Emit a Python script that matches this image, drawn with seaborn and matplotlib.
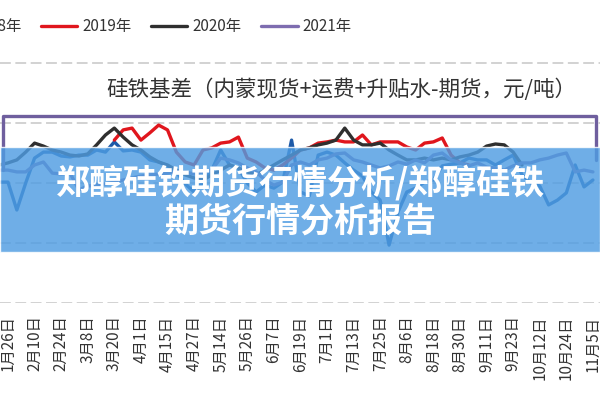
import numpy as np
import pandas as pd
import matplotlib
matplotlib.use("Agg")
import matplotlib.pyplot as plt
from matplotlib.patches import Rectangle
import seaborn as sns

# x tick labels (one label every 3 sample points)
dates = ['1月26日', '2月10日', '2月24日', '3月8日', '3月20日', '4月1日', '4月15日',
         '4月27日', '5月14日', '5月26日', '6月7日', '6月19日', '7月1日', '7月13日',
         '7月25日', '8月6日', '8月18日', '8月30日', '9月11日', '9月23日', '10月12日',
         '10月24日', '11月5日']

# basis values (yuan/ton); first point sits at index -1
basis_2018 = [203, 203, 110, 200, 283, 303, 303, 290, 287, 293, 293, 310, 303, 337,
              307, 310, 303, 277, 270, 257, 237, 197, 170, 203, 243, 310, 260, 250,
              200, 170, 193, 183, 203, 343, 170, 157, 293, 303, 293, 267, 243, 223,
              170, 143, -7, 103, 170, 183, 203, 210, 257, 263, 267, 283, 277, 277,
              260, 277, 293, 227, 200, 190, 127, 143, 167, 260, 187, 210]
start_2018 = -1

basis_2019 = [343, 377, 383, 343, 367, 393, 377, 303, 270, 260, 310, 317, 333, 337,
              353, 283, 270, 250, 243, 260, 283, 310, 317, 333, 337, 343, 337, 337,
              360, 327, 337, 337, 337, 320, 310, 333, 337, 350, 293, 267, 260]
start_2019 = 12

basis_2020 = [260, 267, 277, 303, 333, 323, 310, 303, 293, 290, 297, 327, 360, 383,
              353, 327, 310, 287, 270, 260, 243, 227, 217, 210, 227, 243, 260, 250,
              237, 227, 243, 260, 277, 293, 310, 317, 327, 333, 343, 383, 343, 327,
              327, 333, 310, 293, 277, 277, 283, 277, 283, 277, 287, 293, 303, 323,
              330, 327, 303, 260]
start_2020 = -1

basis_2021 = [243, 243, 237, 237, 260, 270, 233, 230, 233, 177, 190, 193, 197, 203,
              210, 217, 223, 227, 230, 233, 237, 237, 230, 237, 243, 283, 277, 267,
              250, 237, 210, 193, 203, 260, 270, 260, 277, 283, 297, 300, 277, 270,
              260, 250, 257, 270, 263, 277, 267, 293, 300, 277, 267, 257, 267, 253,
              250, 243, 257, 267, 267, 277, 283, 293, 300, 237, 243, 237]
start_2021 = -1

# purple outline drawn across the top of the chart
frame_x = [-0.55, -0.55, 66.4, 66.4]
frame_v = [243, 423, 423, 277]

series = {'2018年': (start_2018, basis_2018), '2019年': (start_2019, basis_2019),
          '2020年': (start_2020, basis_2020), '2021年': (start_2021, basis_2021)}
colors = {'2018年': '#1d5aa8', '2019年': '#e0161d', '2020年': '#2f2f2f', '2021年': '#7e6db0'}

frames = []
for name, (start, vals) in series.items():
    frames.append(pd.DataFrame({'idx': np.arange(start, start + len(vals)),
                                'basis': vals, 'year': name}))
df = pd.concat(frames, ignore_index=True)

sns.set_theme(style="white")
plt.rcParams['font.family'] = ['Noto Sans CJK SC', 'DejaVu Sans']

fig = plt.figure(figsize=(6, 4), dpi=100)
ax = fig.add_axes([0, 0.2425, 1, 0.6075])

for name in series:
    sub = df[df['year'] == name]
    sns.lineplot(data=sub, x='idx', y='basis', color=colors[name], lw=2.4,
                 label=name, ax=ax, legend=False)
ax.plot(frame_x, frame_v, color='#6f5f9e', lw=2.4)

ax.set_xlim(-0.9, 66.8)
ax.set_ylim(-200, 610)
ax.set_yticks([-200, 0, 200, 400, 600])
ax.set_yticklabels([])
ax.set_xticks(range(0, 67, 3))
ax.set_xticklabels(dates, rotation=90, fontsize=11, color='#333333')
ax.tick_params(axis='x', length=0, pad=9)
ax.tick_params(axis='y', length=0)
ax.set_xlabel('')
ax.set_ylabel('')
ax.yaxis.grid(True, color='#cfcfcf', linestyle=(0, (6, 2.5)), lw=1.3)
ax.xaxis.grid(False)
for s in ax.spines.values():
    s.set_visible(False)

fig.text(0.568, 0.775, '硅铁基差（内蒙现货+运费+升贴水-期货，元/吨）',
         ha='center', va='center', fontsize=15.5, color='#333333')

handles = ax.get_lines()[:4]
fig.legend(handles, list(series.keys()), loc='center', bbox_to_anchor=(0.235, 0.9325),
           ncol=4, frameon=False, fontsize=11, handlelength=2.4, handletextpad=0.35,
           columnspacing=1.25, labelcolor='#333333')

# blue banner over the chart
fig.patches.append(Rectangle((0, 0.37), 1, 0.2625, transform=fig.transFigure,
                             facecolor='#4f9de2', alpha=0.82, zorder=5))
fig.text(0.5, 0.5425, '郑醇硅铁期货行情分析/郑醇硅铁', ha='center', va='center',
         fontsize=24.5, fontweight='bold', color='white', zorder=6)
fig.text(0.5, 0.4475, '期货行情分析报告', ha='center', va='center',
         fontsize=24.5, fontweight='bold', color='white', zorder=6)

fig.savefig('out.png', dpi=100)
